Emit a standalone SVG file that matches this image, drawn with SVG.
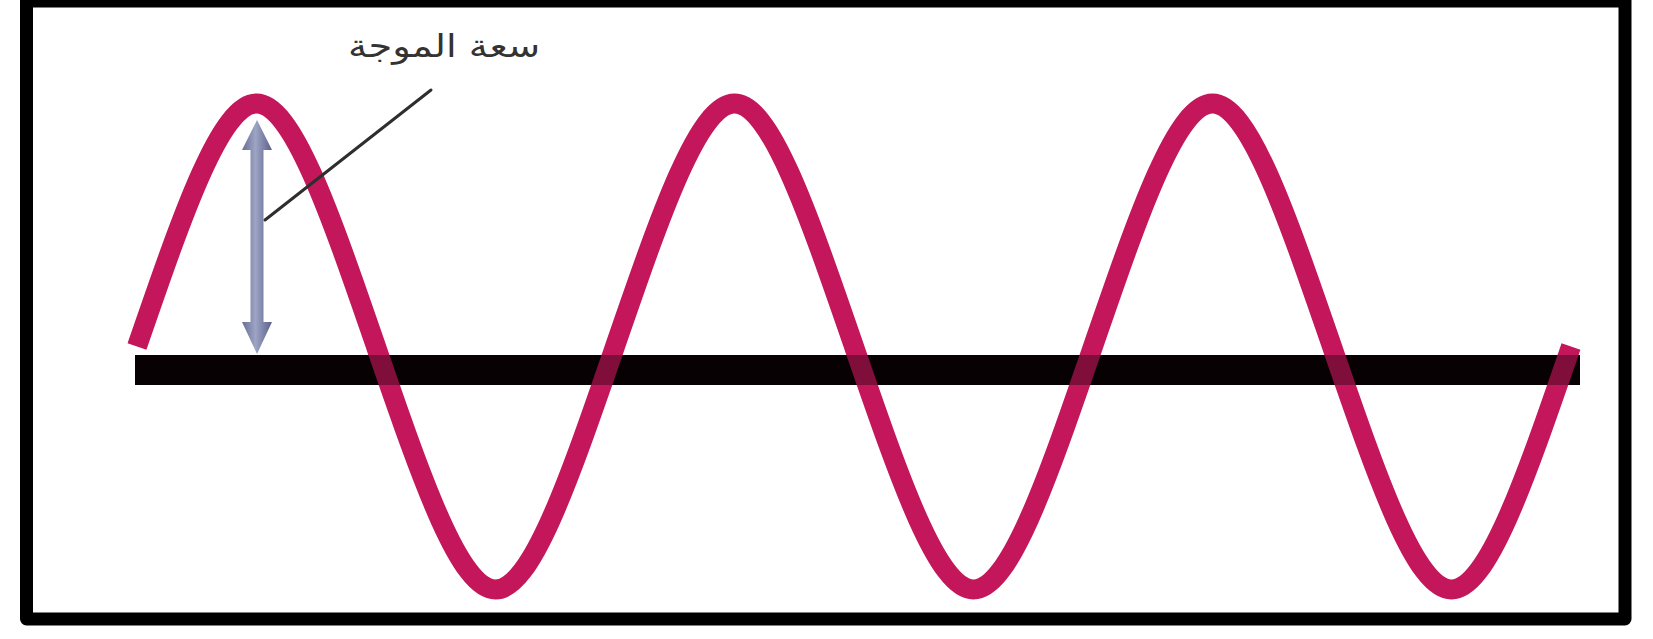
<svg xmlns="http://www.w3.org/2000/svg" width="1653" height="639" viewBox="0 0 1653 639">
  <defs>
    <linearGradient id="arrowGrad" x1="0" y1="0" x2="1" y2="0">
      <stop offset="0" stop-color="#686e96"/>
      <stop offset="0.45" stop-color="#9ea4c4"/>
      <stop offset="1" stop-color="#5a608b"/>
    </linearGradient>
  </defs>
  <style>
    .frame { fill: none; stroke: #000; stroke-width: 13; stroke-linejoin: round; }
    .axis { fill: #0c0207; }
    .axis-shade { fill: #000; fill-opacity: 0.35; }
    .wave { fill: none; stroke: #c4165a; stroke-width: 20; stroke-linecap: butt; stroke-linejoin: round; }
    .leader { fill: none; stroke: #2e2e2e; stroke-width: 3; stroke-linecap: round; }
    .label { font-family: "DejaVu Sans", "Noto Sans", sans-serif; font-size: 32px; fill: #333333; }
  </style>
  <rect width="1653" height="639" fill="#ffffff"/>
  <g id="frame">
    <rect class="frame" x="26.5" y="1" width="1598.5" height="618"/>
  </g>
  <g id="axis">
    <rect class="axis" x="135" y="355" width="1445" height="30"/>
  </g>
  <g id="amplitude-arrow">
    <path fill="url(#arrowGrad)" d="M257,120 L272,150 L263.5,150 L263.5,322 L272,322 L257,354 L242,322 L250.5,322 L250.5,150 L242,150 Z"/>
  </g>
  <g id="wave">
    <path class="wave" d="M137,346.5 C183,213.1 220.5,103.5 256.5,103.5 C292.5,103.5 330,213.1 376,346.5 C422,479.9 459.5,589.5 495.5,589.5 C531.5,589.5 569,479.9 615,346.5 C661,213.1 698.5,103.5 734.5,103.5 C770.5,103.5 808,213.1 854,346.5 C900,479.9 937.5,589.5 973.5,589.5 C1009.5,589.5 1047,479.9 1093,346.5 C1139,213.1 1176.5,103.5 1212.5,103.5 C1248.5,103.5 1286,213.1 1332,346.5 C1378,479.9 1415.5,589.5 1451.5,589.5 C1487.5,589.5 1525,479.9 1571,346.5"/>
  </g>
  <g id="axis-overlay">
    <rect class="axis-shade" x="135" y="355" width="1445" height="30"/>
  </g>
  <g id="connectors">
    <line class="leader" x1="265" y1="220" x2="431" y2="90"/>
  </g>
  <g id="label">
    <text class="label" transform="translate(444,57) scale(1.2,1)" x="0" y="0" text-anchor="middle">سعة الموجة</text>
  </g>
</svg>
